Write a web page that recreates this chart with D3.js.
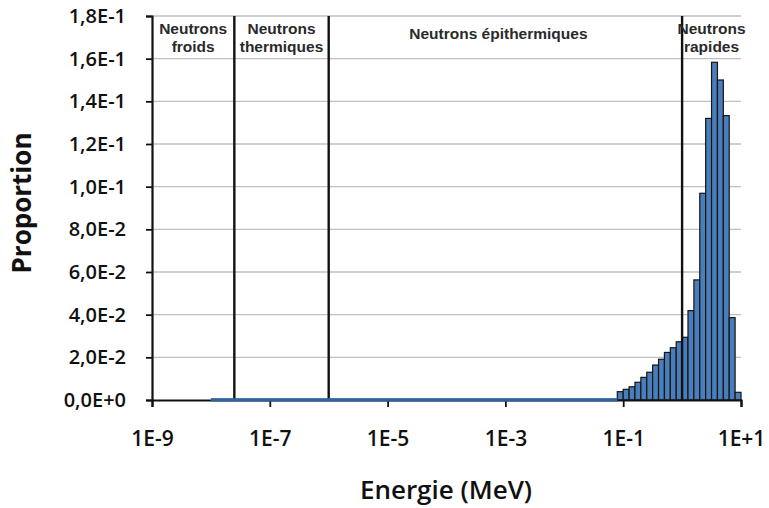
<!DOCTYPE html>
<html>
<head>
<meta charset="utf-8">
<script src="https://cdn.jsdelivr.net/npm/d3@7"></script>
<style>
  body { margin: 0; background: #fff; }
  svg text { font-family: "Open Sans", sans-serif; }
</style>
</head>
<body>
<svg id="chart" width="769" height="508"></svg>
<script>
// bin edges (log10 of MeV) of the visible bars, 10 bins per decade
const binStarts = [-1.1, -1.0, -0.9, -0.8, -0.7, -0.6, -0.5, -0.4, -0.3, -0.2, -0.1,
                   0.0, 0.1, 0.2, 0.3, 0.4, 0.5, 0.6, 0.7, 0.8, 0.9];
const binValues = [0.0039, 0.0050, 0.0062, 0.0083, 0.0106, 0.0130, 0.0164, 0.0191, 0.0223, 0.0245, 0.0273,
                   0.0294, 0.0419, 0.0563, 0.0969, 0.1320, 0.1583, 0.1500, 0.1333, 0.0386, 0.0036];
// nearly empty bins from 1E-8 MeV up to the first visible bar
const lowBand = { from: 1e-8, to: Math.pow(10, -1.1), value: 0.0004 };

const yTicks = [0, 0.02, 0.04, 0.06, 0.08, 0.10, 0.12, 0.14, 0.16, 0.18];
const yTickLabels = ["0,0E+0", "2,0E-2", "4,0E-2", "6,0E-2", "8,0E-2", "1,0E-1", "1,2E-1", "1,4E-1", "1,6E-1", "1,8E-1"];
const xTicks = [1e-9, 1e-7, 1e-5, 1e-3, 1e-1, 1e1];
const xTickLabels = ["1E-9", "1E-7", "1E-5", "1E-3", "1E-1", "1E+1"];

// domain limits (MeV) and names
const boundaries = [2.5e-8, 1e-6, 1];
const domainNames = [["Neutrons", "froids"], ["Neutrons", "thermiques"], ["Neutrons épithermiques"], ["Neutrons", "rapides"]];

const svg = d3.select("#chart");
const m = { left: 152, right: 28, top: 16, bottom: 108 };
const W = 769, H = 508;

const x = d3.scaleLog().domain([1e-9, 1e1]).range([m.left, W - m.right]);
const y = d3.scaleLinear().domain([0, 0.18]).range([H - m.bottom, m.top]);

// gridlines
svg.append("g")
  .selectAll("line")
  .data(yTicks.slice(1))
  .enter().append("line")
  .attr("x1", m.left).attr("x2", W - m.right)
  .attr("y1", d => y(d)).attr("y2", d => y(d))
  .attr("stroke", "#c0c0c0").attr("stroke-width", 1.3);

// bars
svg.append("g")
  .selectAll("rect")
  .data(binStarts.map((s, i) => ({ s, v: binValues[i] })))
  .enter().append("rect")
  .attr("x", d => x(Math.pow(10, d.s)))
  .attr("width", d => x(Math.pow(10, d.s + 0.1)) - x(Math.pow(10, d.s)))
  .attr("y", d => y(d.v))
  .attr("height", d => y(0) - y(d.v))
  .attr("fill", "#4a7ebb")
  .attr("stroke", "#151515")
  .attr("stroke-width", 1.2);

// domain boundaries
svg.append("g")
  .selectAll("line")
  .data(boundaries)
  .enter().append("line")
  .attr("x1", d => x(d)).attr("x2", d => x(d))
  .attr("y1", m.top).attr("y2", y(0))
  .attr("stroke", "#111").attr("stroke-width", 2.4);

// domain labels
const edges = [1e-9, ...boundaries, 1e1];
const labels = svg.append("g")
  .attr("font-weight", "bold")
  .attr("font-size", 15.5)
  .attr("fill", "#2a2a2a")
  .attr("text-anchor", "middle");
domainNames.forEach((lines, i) => {
  const cx = x(Math.sqrt(edges[i] * edges[i + 1])) - (lines.length === 1 ? 7 : 0);
  const t = labels.append("text")
    .style("font-family", "Liberation Sans, Arial, sans-serif")
    .attr("x", cx)
    .attr("y", lines.length === 1 ? 39 : 34);
  lines.forEach((s, j) => {
    t.append("tspan").attr("x", cx).attr("dy", j ? 18 : 0).text(s);
  });
});

// axes
const yAxis = d3.axisLeft(y).tickValues(yTicks)
  .tickFormat((d, i) => yTickLabels[i]).tickSize(6).tickPadding(20);
svg.append("g").attr("transform", `translate(${m.left},0)`).call(yAxis)
  .call(g => g.select(".domain").attr("stroke", "#111").attr("stroke-width", 2.2))
  .call(g => g.selectAll(".tick line").attr("stroke", "#111").attr("stroke-width", 1.8))
  .call(g => g.selectAll("text").attr("font-size", 20).attr("font-weight", 600).attr("fill", "#111").attr("font-family", null));

const xAxis = d3.axisBottom(x).tickValues(xTicks)
  .tickFormat((d, i) => xTickLabels[i]).tickSize(7).tickPadding(24);
svg.append("g").attr("transform", `translate(0,${y(0)})`).call(xAxis)
  .call(g => g.select(".domain").attr("stroke", "#111").attr("stroke-width", 2.2))
  .call(g => g.selectAll(".tick line").attr("stroke", "#111").attr("stroke-width", 1.8))
  .call(g => g.selectAll("text").attr("font-size", 21).attr("font-weight", 600).attr("fill", "#111").attr("font-family", null));

// low near-zero band, drawn over the axis line as in the source
svg.append("rect")
  .attr("x", x(lowBand.from))
  .attr("width", x(lowBand.to) - x(lowBand.from))
  .attr("y", y(lowBand.value) - 1)
  .attr("height", y(0) - y(lowBand.value) + 2.5)
  .attr("fill", "#2f63a3");

// axis titles
svg.append("text")
  .attr("x", 446).attr("y", 499)
  .attr("text-anchor", "middle")
  .attr("font-size", 26).attr("font-weight", 600).attr("fill", "#111")
  .text("Energie (MeV)");

svg.append("text")
  .attr("transform", "translate(31,203) rotate(-90)")
  .attr("text-anchor", "middle")
  .attr("font-size", 26).attr("font-weight", 700).attr("fill", "#111")
  .text("Proportion");
</script>
</body>
</html>
